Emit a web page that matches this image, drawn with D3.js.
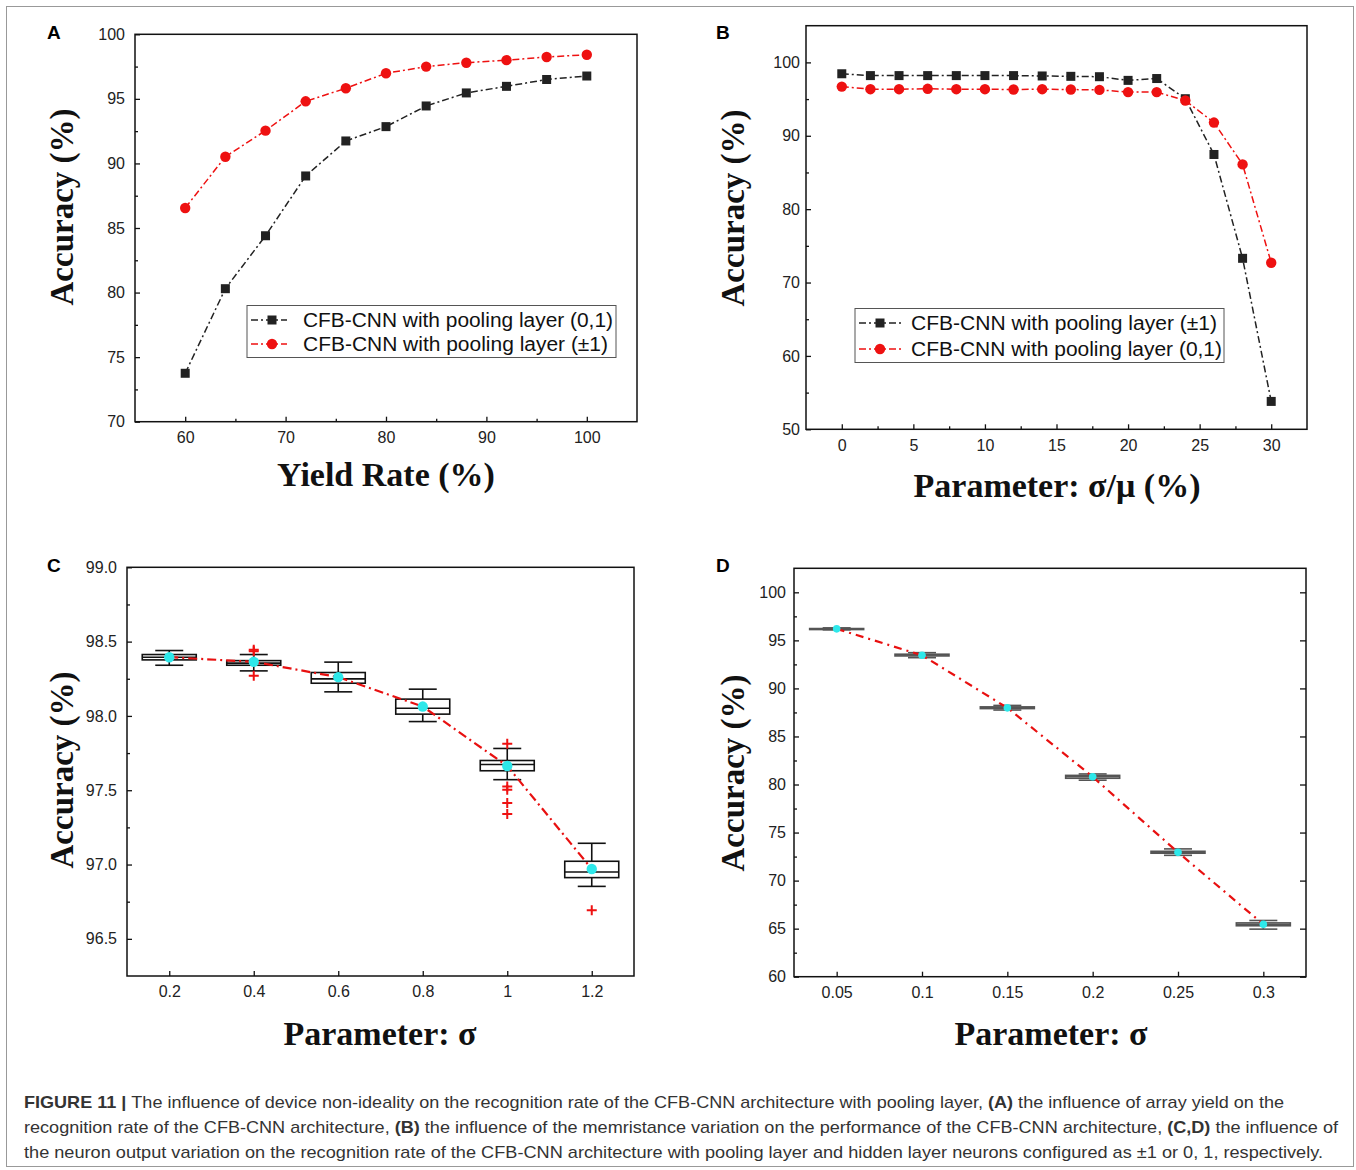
<!DOCTYPE html>
<html>
<head>
<meta charset="utf-8">
<script src="https://cdn.jsdelivr.net/npm/d3@7"></script>
<style>
  body { margin: 0; background: #fff; }
  text { font-family: 'Liberation Sans', Arial, sans-serif; }
  text.serif-title { font-family: 'Liberation Serif', 'Times New Roman', serif; }
</style>
</head>
<body>
<div id="chart"></div>
<script>
// ---- data ----
// (A) yield rate
let yieldRate = [60, 64, 68, 72, 76, 80, 84, 88, 92, 96, 100]
let accYield01 = [73.75, 80.3, 84.4, 89.03, 91.74, 92.85, 94.45, 95.46, 95.97, 96.5, 96.77]
let accYieldPm1 = [86.55, 90.52, 92.54, 94.81, 95.82, 96.98, 97.5, 97.8, 98.0, 98.24, 98.42]

// (B) memristance variation
let sigmaMu = [0, 2, 4, 6, 8, 10, 12, 14, 16, 18, 20, 22, 24, 26, 28, 30]
let accSigmaPm1 = [98.45, 98.2, 98.2, 98.2, 98.2, 98.2, 98.2, 98.15, 98.1, 98.05, 97.55, 97.8, 95.05, 87.45, 73.3, 53.8]
let accSigma01 = [96.7, 96.35, 96.35, 96.4, 96.35, 96.35, 96.3, 96.35, 96.3, 96.25, 95.95, 95.95, 94.8, 91.8, 86.1, 72.7]

// (C) neuron output variation, +-1 neurons (box stats)
let sigmaC = [0.2, 0.4, 0.6, 0.8, 1.0, 1.2]
let cWhiskLow = [98.341, 98.303, 98.162, 97.962, 97.571, 96.853]
let cQ1 = [98.377, 98.341, 98.22, 98.012, 97.631, 96.912]
let cMedian = [98.395, 98.355, 98.249, 98.052, 97.673, 96.95]
let cQ3 = [98.413, 98.372, 98.292, 98.113, 97.70, 97.022]
let cWhiskHigh = [98.44, 98.413, 98.362, 98.18, 97.781, 97.143]
let cMean = [98.395, 98.364, 98.261, 98.063, 97.663, 96.97]
let cOutliers = [[], [98.27, 98.435, 98.445], [], [], [97.813, 97.525, 97.503, 97.414, 97.34], [96.692]]

// (D) neuron output variation, 0/1 neurons (box stats)
let sigmaD = [0.05, 0.1, 0.15, 0.2, 0.25, 0.3]
let dWhiskLow = [96.1, 93.2, 87.75, 80.45, 72.63, 64.95]
let dQ1 = [96.17, 93.38, 87.9, 80.65, 72.85, 65.3]
let dMedian = [96.2, 93.47, 87.99, 80.82, 72.95, 65.45]
let dQ3 = [96.23, 93.56, 88.08, 80.95, 73.05, 65.6]
let dWhiskHigh = [96.3, 93.72, 88.23, 81.1, 73.3, 65.85]
let dMean = [96.2, 93.45, 87.98, 80.8, 72.94, 65.45]

let captionLines = [
  [['FIGURE 11 | ', true], ['The influence of device non-ideality on the recognition rate of the CFB-CNN architecture with pooling layer, ', false], ['(A)', true], [' the influence of array yield on the', false]],
  [['recognition rate of the CFB-CNN architecture, ', false], ['(B)', true], [' the influence of the memristance variation on the performance of the CFB-CNN architecture, ', false], ['(C,D)', true], [' the influence of', false]],
  [['the neuron output variation on the recognition rate of the CFB-CNN architecture with pooling layer and hidden layer neurons configured as \u00b11 or 0, 1, respectively.', false]]
]
let captionWidths = [1260, 1314, 1299]

let width = 1356
let height = 1170

let svg = d3
  .select('#chart')
  .append('svg')
  .attr('width', width)
  .attr('height', height)

svg.append('rect')
  .attr('x', 6.5).attr('y', 6.5)
  .attr('width', 1347).attr('height', 1160)
  .attr('fill', '#fff')
  .attr('stroke', '#999')
  .attr('stroke-width', 1)

let dashDot = '7,3,2,3'

// builds axes + frame for one panel and returns its scales
function makePanel(o) {
  let x = d3.scaleLinear().domain(o.xDomain).range([o.left, o.right])
  let y = d3.scaleLinear().domain(o.yDomain).range([o.bottom, o.top])
  let g = svg.append('g')

  let styleAxis = sel => {
    sel.select('.domain').remove()
    sel.selectAll('line').attr('stroke', '#111').attr('stroke-width', 1.3)
    sel.selectAll('text')
      .attr('font-size', 16)
      .attr('fill', '#222')
  }

  if (o.xMinor) {
    g.append('g')
      .attr('transform', `translate(0,${o.bottom})`)
      .call(d3.axisBottom(x).tickValues(o.xMinor).tickSize(-3).tickFormat(''))
      .call(styleAxis)
  }
  if (o.yMinor) {
    g.append('g')
      .attr('transform', `translate(${o.left},0)`)
      .call(d3.axisLeft(y).tickValues(o.yMinor).tickSize(-3).tickFormat(''))
      .call(styleAxis)
  }
  g.append('g')
    .attr('transform', `translate(0,${o.bottom})`)
    .call(d3.axisBottom(x).tickValues(o.xTicks).tickSize(-5).tickPadding(o.xPad).tickFormat(o.xFormat))
    .call(styleAxis)
  g.append('g')
    .attr('transform', `translate(${o.left},0)`)
    .call(d3.axisLeft(y).tickValues(o.yTicks).tickSize(-5).tickPadding(o.yPad).tickFormat(o.yFormat))
    .call(styleAxis)
  if (o.rightTicks) {
    g.append('g')
      .attr('transform', `translate(${o.right},0)`)
      .call(d3.axisRight(y).tickValues(o.yTicks).tickSize(-6).tickFormat(''))
      .call(styleAxis)
  }

  g.append('rect')
    .attr('x', o.left).attr('y', o.top)
    .attr('width', o.right - o.left).attr('height', o.bottom - o.top)
    .attr('fill', 'none')
    .attr('stroke', '#111')
    .attr('stroke-width', 1.5)

  // panel letter
  g.append('text')
    .attr('x', o.letterX).attr('y', o.letterY)
    .attr('font-size', 19).attr('font-weight', 'bold')
    .text(o.letter)

  // axis titles (bold serif)
  g.append('text')
    .attr('class', 'serif-title')
    .attr('transform', `translate(${o.yTitleX},${o.yTitleY}) rotate(-90)`)
    .attr('text-anchor', 'middle')
    .attr('font-weight', 'bold')
    .attr('font-size', 33)
    .attr('fill', '#111')
    .text('Accuracy (%)')
  g.append('text')
    .attr('class', 'serif-title')
    .attr('x', o.xTitleX).attr('y', o.xTitleY)
    .attr('text-anchor', 'middle')
    .attr('font-weight', 'bold')
    .attr('font-size', 34)
    .attr('fill', '#111')
    .text(o.xTitle)

  return { x, y, g }
}

function drawSeries(p, xs, ys, color, marker) {
  let line = d3.line().x((d, i) => p.x(xs[i])).y(d => p.y(d))
  p.g.append('path')
    .datum(ys)
    .attr('d', line)
    .attr('fill', 'none')
    .attr('stroke', color)
    .attr('stroke-width', 1.5)
    .attr('stroke-dasharray', dashDot)
  if (marker === 'square') {
    p.g.selectAll(null).data(ys).enter().append('rect')
      .attr('x', (d, i) => p.x(xs[i]) - 4.5)
      .attr('y', d => p.y(d) - 4.5)
      .attr('width', 9).attr('height', 9)
      .attr('fill', color)
  } else {
    p.g.selectAll(null).data(ys).enter().append('circle')
      .attr('cx', (d, i) => p.x(xs[i]))
      .attr('cy', d => p.y(d))
      .attr('r', 5.2)
      .attr('fill', color)
  }
}

function drawLegend(p, box, rows) {
  p.g.append('rect')
    .attr('x', box.x).attr('y', box.y)
    .attr('width', box.w).attr('height', box.h)
    .attr('fill', '#fff')
    .attr('stroke', '#555').attr('stroke-width', 1)
  rows.forEach((r, i) => {
    let cy = box.y + box.row0 + i * box.rowGap
    p.g.append('line')
      .attr('x1', box.x + 4).attr('x2', box.x + box.lineW)
      .attr('y1', cy).attr('y2', cy)
      .attr('stroke', r.color).attr('stroke-width', 1.5)
      .attr('stroke-dasharray', dashDot)
    let mx = box.x + box.markX
    if (r.marker === 'square') {
      p.g.append('rect').attr('x', mx - 4.5).attr('y', cy - 4.5)
        .attr('width', 9).attr('height', 9).attr('fill', r.color)
    } else {
      p.g.append('circle').attr('cx', mx).attr('cy', cy).attr('r', 5.2).attr('fill', r.color)
    }
    p.g.append('text')
      .attr('x', box.x + box.textX).attr('y', cy + 7)
      .attr('font-size', 20)
      .attr('fill', '#111')
      .attr('textLength', r.len)
      .attr('lengthAdjust', 'spacingAndGlyphs')
      .text(r.label)
  })
}

function drawBoxes(p, xs, lo, q1, med, q3, hi, mean, opts) {
  xs.forEach((xv, i) => {
    let cx = p.x(xv)
    let gg = p.g.append('g')
      .attr('stroke', opts.color).attr('stroke-width', opts.sw).attr('fill', 'none')
    gg.append('line').attr('x1', cx).attr('x2', cx).attr('y1', p.y(hi[i])).attr('y2', p.y(q3[i]))
    gg.append('line').attr('x1', cx).attr('x2', cx).attr('y1', p.y(q1[i])).attr('y2', p.y(lo[i]))
    gg.append('line').attr('x1', cx - opts.cap).attr('x2', cx + opts.cap).attr('y1', p.y(hi[i])).attr('y2', p.y(hi[i]))
    gg.append('line').attr('x1', cx - opts.cap).attr('x2', cx + opts.cap).attr('y1', p.y(lo[i])).attr('y2', p.y(lo[i]))
    gg.append('rect')
      .attr('x', cx - opts.half).attr('width', opts.half * 2)
      .attr('y', p.y(q3[i])).attr('height', Math.max(p.y(q1[i]) - p.y(q3[i]), 1))
      .attr('fill', '#fff')
    gg.append('line').attr('x1', cx - opts.half).attr('x2', cx + opts.half).attr('y1', p.y(med[i])).attr('y2', p.y(med[i]))
  })
}

// ---------------- panel A ----------------
let pA = makePanel({
  left: 135, right: 637, top: 34.3, bottom: 421.7,
  xDomain: [55, 105], yDomain: [70, 100],
  xTicks: [60, 70, 80, 90, 100], xMinor: [65, 75, 85, 95],
  yTicks: d3.range(70, 101, 5), yMinor: d3.range(72.5, 100, 5),
  xPad: 10, yPad: 10,
  xFormat: d3.format('d'), yFormat: d3.format('d'),
  letter: 'A', letterX: 47, letterY: 39,
  yTitleX: 73, yTitleY: 207, xTitleX: 386, xTitleY: 486,
  xTitle: 'Yield Rate (%)'
})
drawSeries(pA, yieldRate, accYield01, '#222', 'square')
drawSeries(pA, yieldRate, accYieldPm1, '#ee1111', 'circle')
drawLegend(pA, { x: 247, y: 305.5, w: 369, h: 52, row0: 14.5, rowGap: 24, lineW: 40, markX: 25, textX: 56 }, [
  { label: 'CFB-CNN with pooling layer (0,1)', color: '#222', marker: 'square', len: 310 },
  { label: 'CFB-CNN with pooling layer (\u00b11)', color: '#ee1111', marker: 'circle', len: 305 }
])

// ---------------- panel B ----------------
let pB = makePanel({
  left: 806, right: 1307, top: 25.7, bottom: 429.3,
  xDomain: [-2.5, 32.5], yDomain: [50, 105],
  xTicks: d3.range(0, 31, 5), xMinor: d3.range(2.5, 30, 5),
  yTicks: d3.range(50, 101, 10), yMinor: d3.range(55, 101, 10),
  xPad: 10, yPad: 6,
  xFormat: d3.format('d'), yFormat: d3.format('d'),
  letter: 'B', letterX: 716, letterY: 39,
  yTitleX: 744, yTitleY: 208, xTitleX: 1057, xTitleY: 497,
  xTitle: 'Parameter: \u03c3/\u03bc (%)'
})
drawSeries(pB, sigmaMu, accSigmaPm1, '#222', 'square')
drawSeries(pB, sigmaMu, accSigma01, '#ee1111', 'circle')
drawLegend(pB, { x: 855, y: 308.5, w: 369, h: 54, row0: 14.5, rowGap: 26, lineW: 46, markX: 25, textX: 56 }, [
  { label: 'CFB-CNN with pooling layer (\u00b11)', color: '#222', marker: 'square', len: 306 },
  { label: 'CFB-CNN with pooling layer (0,1)', color: '#ee1111', marker: 'circle', len: 311 }
])

// ---------------- panel C ----------------
let pC = makePanel({
  left: 127, right: 634, top: 567.3, bottom: 976,
  xDomain: [0.1, 1.3], yDomain: [96.25, 99.0],
  xTicks: sigmaC, xMinor: null,
  yTicks: d3.range(96.5, 99.01, 0.5), yMinor: [96.75, 97.25, 97.75, 98.25, 98.75],
  xPad: 10, yPad: 10,
  xFormat: d => (d === 1 ? '1' : d3.format('.1f')(d)), yFormat: d3.format('.1f'),
  letter: 'C', letterX: 47, letterY: 572,
  yTitleX: 73, yTitleY: 770, xTitleX: 380, xTitleY: 1045,
  xTitle: 'Parameter: \u03c3'
})
drawBoxes(pC, sigmaC, cWhiskLow, cQ1, cMedian, cQ3, cWhiskHigh, cMean, { color: '#111', sw: 1.6, half: 27, cap: 14 })
pC.g.append('path')
  .datum(cMean)
  .attr('d', d3.line().x((d, i) => pC.x(sigmaC[i])).y(d => pC.y(d)))
  .attr('fill', 'none')
  .attr('stroke', '#e81010')
  .attr('stroke-width', 2.2)
  .attr('stroke-dasharray', '9,4,2,4')
cOutliers.forEach((list, i) => {
  list.forEach(v => {
    let cx = pC.x(sigmaC[i])
    let cy = pC.y(v)
    pC.g.append('path')
      .attr('d', `M${cx - 5},${cy}H${cx + 5}M${cx},${cy - 5}V${cy + 5}`)
      .attr('stroke', '#ee1111').attr('stroke-width', 2)
  })
})
pC.g.selectAll(null).data(cMean).enter().append('circle')
  .attr('cx', (d, i) => pC.x(sigmaC[i]))
  .attr('cy', d => pC.y(d))
  .attr('r', 5.2)
  .attr('fill', '#2ee8ea')

// ---------------- panel D ----------------
let pD = makePanel({
  left: 794, right: 1306, top: 568.3, bottom: 976.7,
  xDomain: [0.025, 0.325], yDomain: [60, 102.5],
  xTicks: sigmaD, xMinor: null,
  yTicks: d3.range(60, 101, 5), yMinor: d3.range(62.5, 102, 5),
  xPad: 10, yPad: 8,
  xFormat: d => String(+d.toFixed(2)), yFormat: d3.format('d'),
  rightTicks: true,
  letter: 'D', letterX: 716, letterY: 572,
  yTitleX: 744, yTitleY: 773, xTitleX: 1051, xTitleY: 1045,
  xTitle: 'Parameter: \u03c3'
})
drawBoxes(pD, sigmaD, dWhiskLow, dQ1, dMedian, dQ3, dWhiskHigh, dMean, { color: '#555', sw: 1.6, half: 27, cap: 14 })
pD.g.append('path')
  .datum(dMean)
  .attr('d', d3.line().x((d, i) => pD.x(sigmaD[i])).y(d => pD.y(d)))
  .attr('fill', 'none')
  .attr('stroke', '#e81010')
  .attr('stroke-width', 2.2)
  .attr('stroke-dasharray', '8,5,2,5')
pD.g.selectAll(null).data(dMean).enter().append('circle')
  .attr('cx', (d, i) => pD.x(sigmaD[i]))
  .attr('cy', d => pD.y(d))
  .attr('r', 3.8)
  .attr('fill', '#2ee8ea')

// ---------------- caption ----------------
captionLines.forEach((parts, i) => {
  let t = svg.append('text')
    .attr('x', 24).attr('y', 1108 + i * 25)
    .attr('font-size', 17)
    .attr('fill', '#333')
    .attr('textLength', captionWidths[i])
    .attr('lengthAdjust', 'spacingAndGlyphs')
  parts.forEach(([s, bold]) => {
    t.append('tspan').attr('font-weight', bold ? 'bold' : 'normal').text(s)
  })
})
</script>
</body>
</html>
